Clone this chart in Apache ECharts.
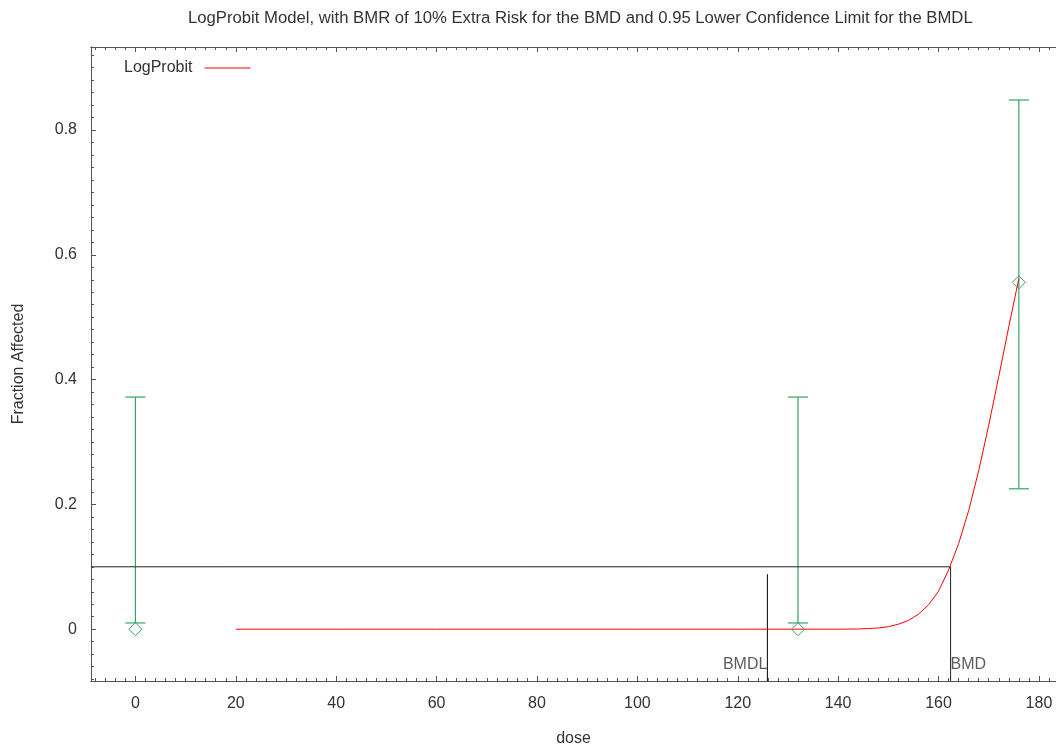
<!DOCTYPE html>
<html>
<head>
<meta charset="utf-8">
<script src="https://cdn.jsdelivr.net/npm/echarts@6/dist/echarts.min.js"></script>
<style>html,body{margin:0;padding:0;background:#fff}#c{width:1056px;height:746px}</style>
</head>
<body>
<div id="c"></div>
<script>
// ---- data ----
const titleText = 'LogProbit Model, with BMR of 10% Extra Risk for the BMD and 0.95 Lower Confidence Limit for the BMDL';
const doses = [0, 132, 176];
const observed = [0, 0, 0.556];
const ciLower = [0.01, 0.01, 0.225];
const ciUpper = [0.372, 0.372, 0.848];
const curveDose = [20, 40, 60, 80, 100, 120, 140, 144, 146, 148, 150, 152, 154, 156, 158, 160, 162, 164, 166, 168, 170, 172, 174, 176];
const curveVal  = [0, 0, 0, 0, 0, 0, 0, 0.0004, 0.001, 0.002, 0.004, 0.008, 0.014, 0.024, 0.039, 0.061, 0.095, 0.137, 0.19, 0.254, 0.327, 0.405, 0.485, 0.562];
const bmr = 0.1;
const bmd = 162.4;
const bmdl = 125.9;
const bmdlTop = 0.088;
const xTicks = [0, 20, 40, 60, 80, 100, 120, 140, 160, 180];
const yTicks = [0, 0.2, 0.4, 0.6, 0.8];
const xMin = -8.85, xMax = 183.4, yMin = -0.083, yMax = 0.933;

const xMinor = []; for (let v = -8; v <= 182; v += 2) xMinor.push(v);
const yMinor = []; for (let i = -4; i <= 46; i++) yMinor.push(+(i * 0.02).toFixed(2));

const font = 'Liberation Sans, Arial, sans-serif';
const txt = '#333';
const green = '#35a368';
const fs = 16;

const chart = echarts.init(document.getElementById('c'), null, {renderer: 'canvas'});

function xAx(extra) {
  return Object.assign({
    type: 'value', min: xMin, max: xMax, gridIndex: 0,
    splitLine: {show: false},
    axisLine: {show: true, onZero: false, lineStyle: {color: '#555', width: 1}},
    axisLabel: {show: false},
    axisTick: {show: false}
  }, extra);
}
function yAx(extra) {
  return Object.assign({
    type: 'value', min: yMin, max: yMax, gridIndex: 0,
    splitLine: {show: false},
    axisLine: {show: true, onZero: false, lineStyle: {color: '#555', width: 1}},
    axisLabel: {show: false},
    axisTick: {show: false}
  }, extra);
}

const option = {
  animation: false,
  backgroundColor: '#fff',
  title: {
    text: titleText, left: 183, top: 5,
    textStyle: {fontFamily: font, fontSize: 16.7, fontWeight: 'normal', color: txt}
  },
  legend: {
    data: [{name: 'LogProbit', icon: 'rect'}],
    left: 119, top: 55, align: 'right', itemWidth: 46, itemHeight: 1,
    textStyle: {fontFamily: font, fontSize: fs, color: txt, padding: [0, 7, 0, 0]}
  },
  grid: {left: 91, right: 0, top: 47, bottom: 65, containLabel: false, outerBoundsMode: 'none'},
  xAxis: [
    xAx({position: 'bottom', name: 'dose', nameLocation: 'middle', nameGap: 50,
      nameTextStyle: {fontFamily: font, fontSize: fs, color: txt},
      axisLabel: {show: true, customValues: xTicks, fontFamily: font, fontSize: fs, color: txt, margin: 15},
      axisTick: {show: true, inside: true, length: 5, customValues: xTicks, lineStyle: {color: '#555'}}}),
    xAx({position: 'bottom', axisTick: {show: true, inside: true, length: 3, customValues: xMinor, lineStyle: {color: '#555'}}}),
    xAx({position: 'top', axisTick: {show: true, inside: true, length: 5, customValues: xTicks, lineStyle: {color: '#555'}}}),
    xAx({position: 'top', axisTick: {show: true, inside: true, length: 3, customValues: xMinor, lineStyle: {color: '#555'}}})
  ],
  yAxis: [
    yAx({position: 'left', name: 'Fraction Affected', nameLocation: 'middle', nameGap: 64, nameRotate: 90,
      nameTextStyle: {fontFamily: font, fontSize: fs, color: txt},
      axisLabel: {show: true, customValues: yTicks, fontFamily: font, fontSize: fs, color: txt, margin: 14,
        formatter: v => String(+v.toFixed(1))},
      axisTick: {show: true, inside: true, length: 5, customValues: yTicks, lineStyle: {color: '#555'}}}),
    yAx({position: 'left', axisTick: {show: true, inside: true, length: 3, customValues: yMinor, lineStyle: {color: '#555'}}})
  ],
  series: [
    {
      name: 'LogProbit', type: 'line', xAxisIndex: 0, yAxisIndex: 0,
      data: curveDose.map((d, i) => [d, curveVal[i]]),
      showSymbol: false, symbol: 'none', smooth: false,
      lineStyle: {color: '#ff0000', width: 1}, itemStyle: {color: '#ff0000'}, z: 4
    },
    {
      name: 'BMR', type: 'line', xAxisIndex: 0, yAxisIndex: 0,
      data: [[xMin, bmr], [bmd, bmr], [bmd, yMin]],
      symbol: 'none', lineStyle: {color: '#222', width: 1}, z: 3, silent: true
    },
    {
      name: 'BMDLline', type: 'line', xAxisIndex: 0, yAxisIndex: 0,
      data: [[bmdl, yMin], [bmdl, bmdlTop]],
      symbol: 'none', lineStyle: {color: '#000', width: 1}, z: 3, silent: true
    },
    {
      name: 'Data', type: 'custom', xAxisIndex: 0, yAxisIndex: 0,
      data: doses.map((d, i) => [d, ciLower[i], ciUpper[i]]),
      renderItem: function (params, api) {
        const x = api.coord([api.value(0), 0])[0];
        const lo = api.coord([api.value(0), api.value(1)])[1];
        const hi = api.coord([api.value(0), api.value(2)])[1];
        const w = 10;
        const st = {stroke: green, lineWidth: 1.2};
        return {type: 'group', children: [
          {type: 'line', shape: {x1: x, y1: lo, x2: x, y2: hi}, style: st},
          {type: 'line', shape: {x1: x - w, y1: lo, x2: x + w, y2: lo}, style: st},
          {type: 'line', shape: {x1: x - w, y1: hi, x2: x + w, y2: hi}, style: st}
        ]};
      },
      z: 2, silent: true
    },
    {
      name: 'Observed', type: 'scatter', xAxisIndex: 0, yAxisIndex: 0,
      data: doses.map((d, i) => [d, observed[i]]),
      symbol: 'diamond', symbolSize: [13, 13],
      itemStyle: {color: 'rgba(255,255,255,0)', borderColor: green, borderWidth: 1, opacity: 1}, z: 5, silent: true
    },
    {
      name: 'Labels', type: 'scatter', xAxisIndex: 0, yAxisIndex: 0,
      data: [
        {value: [bmdl, -0.057], label: {show: true, formatter: 'BMDL', position: 'left', distance: 0}},
        {value: [bmd, -0.057], label: {show: true, formatter: 'BMD', position: 'right', distance: 0}}
      ],
      symbolSize: 0, silent: true,
      label: {fontFamily: font, fontSize: fs, color: txt}
    }
  ]
};
chart.setOption(option);
</script>
</body>
</html>
